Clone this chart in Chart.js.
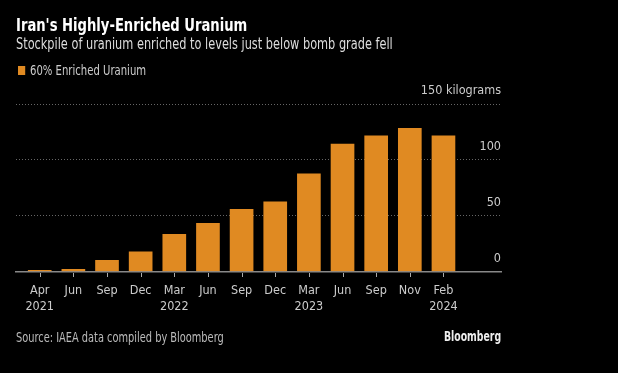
<!DOCTYPE html>
<html>
<head>
<meta charset="utf-8">
<script src="https://cdn.jsdelivr.net/npm/chart.js@4/dist/chart.umd.min.js"></script>
<style>
  html, body { margin: 0; padding: 0; background: #000; }
  #wrap { position: relative; width: 618px; height: 373px; background: #000; overflow: hidden; }
  #chart { position: absolute; left: 0; top: 0; }
  .txt { position: absolute; white-space: nowrap; font-family: 'DejaVu Sans Condensed', sans-serif; transform-origin: 0 50%; }
  #title { left: 16px; top: 15px; font-weight: bold; font-size: 17px; color: #fff; transform: scaleX(0.86); }
  #sub { left: 16px; top: 35px; font-size: 15px; color: #ddd; transform: scaleX(0.84); }
  #legend { left: 18px; top: 62px; font-size: 14px; color: #ccc; transform: scaleX(0.8); }
  #legend i { display: inline-block; width: 9px; height: 9px; background: #e08a22; margin-right: 6px; vertical-align: 0px; }
  #source { left: 16px; top: 329px; font-size: 14px; color: #bbb; transform: scaleX(0.78); }
  #brand { left: 444px; top: 328px; font-weight: bold; font-size: 14px; color: #eee; transform: scaleX(0.74); }
</style>
</head>
<body>
<div id="wrap">
  <canvas id="chart" width="618" height="373"></canvas>
  <div class="txt" id="title">Iran's Highly-Enriched Uranium</div>
  <div class="txt" id="sub">Stockpile of uranium enriched to levels just below bomb grade fell</div>
  <div class="txt" id="legend"><i></i>60% Enriched Uranium</div>
  <div class="txt" id="source">Source: IAEA data compiled by Bloomberg</div>
  <div class="txt" id="brand">Bloomberg</div>
</div>
<script>
(function(){
  'use strict';

  // data
  const months = ['Apr', 'Jun', 'Sep', 'Dec', 'Mar', 'Jun', 'Sep', 'Dec', 'Mar', 'Jun', 'Sep', 'Nov', 'Feb'];
  const years = ['2021', '', '', '', '2022', '', '', '', '2023', '', '', '', '2024'];
  const uranium60 = [1, 2, 10, 17.7, 33.2, 43.1, 55.6, 62.3, 87.5, 114.1, 121.6, 128.3, 121.5];
  const yTicks = [0, 50, 100, 150];

  const orange = '#e08a22';
  const font = "'DejaVu Sans Condensed', sans-serif";

  const points = uranium60.map((v, i) => ({ x: i, y: v }));

  // small tick marks under the x axis, placed by the x scale
  const tickMarks = {
    id: 'tickMarks',
    afterDraw(chart) {
      const x = chart.scales.x, ctx = chart.ctx;
      const y0 = Math.round(chart.chartArea.bottom) + 1;
      ctx.save();
      ctx.strokeStyle = '#aaa';
      ctx.lineWidth = 1;
      months.forEach((m, i) => {
        const px = Math.round(x.getPixelForValue(i)) + 0.5;
        ctx.beginPath();
        ctx.moveTo(px, y0);
        ctx.lineTo(px, y0 + 4);
        ctx.stroke();
      });
      ctx.restore();
    }
  };

  new Chart(document.getElementById('chart').getContext('2d'), {
    type: 'bar',
    data: {
      datasets: [{
        label: '60% Enriched Uranium',
        data: points,
        backgroundColor: orange,
        borderWidth: 0,
        barThickness: 23
      }]
    },
    plugins: [tickMarks],
    options: {
      responsive: false,
      animation: false,
      layout: { padding: { top: 104, left: 16, right: 117, bottom: 52 } },
      plugins: { legend: { display: false }, tooltip: { enabled: false } },
      scales: {
        x: {
          type: 'linear',
          offset: false,
          min: -0.705,
          max: 13.71,
          afterBuildTicks: s => { s.ticks = months.map((m, i) => ({ value: i })); },
          ticks: {
            color: '#ccc',
            font: { family: font, size: 12.5, lineHeight: 1.3 },
            padding: 6,
            maxRotation: 0,
            autoSkip: false,
            callback: v => years[v] ? [months[v], years[v]] : months[v]
          },
          grid: { display: false, drawTicks: true, tickLength: 5 },
          border: { display: true, color: '#888', width: 1.5 }
        },
        y: {
          position: 'right',
          min: 0,
          max: 150,
          afterBuildTicks: s => { s.ticks = yTicks.map(v => ({ value: v })); },
          ticks: {
            mirror: true,
            padding: 0,
            labelOffset: -13,
            color: '#ccc',
            font: { family: font, size: 12.5 },
            callback: v => v === 150 ? '150 kilograms' : String(v)
          },
          grid: {
            drawTicks: false,
            color: ctx => ctx.tick && ctx.tick.value === 0 ? 'rgba(0,0,0,0)' : '#666',
            lineWidth: 1
          },
          border: { display: false, dash: [1, 2] }
        }
      }
    }
  });
})();
</script>
</body>
</html>
